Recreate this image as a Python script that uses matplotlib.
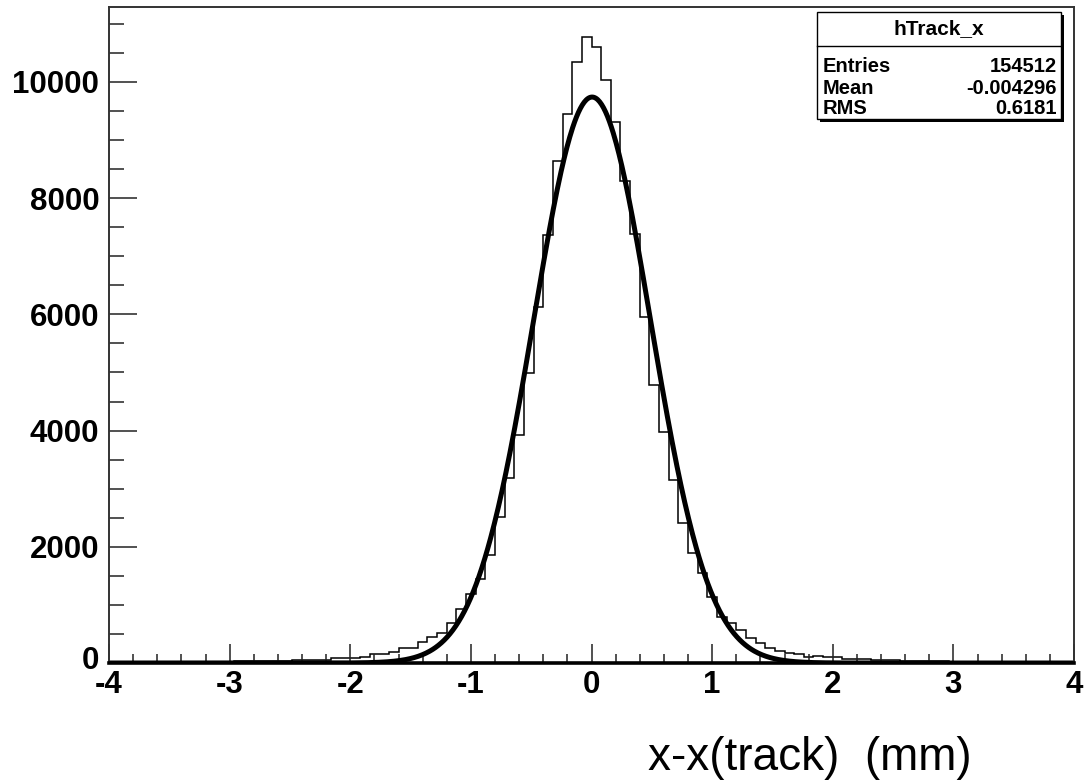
import numpy as np
import matplotlib
matplotlib.use("Agg")
import matplotlib.pyplot as plt
from matplotlib.patches import Rectangle
from matplotlib.lines import Line2D
from matplotlib.ticker import MultipleLocator
from matplotlib.transforms import ScaledTranslation

# ---- data ----
x_min, x_max, n_bins = -4.0, 4.0, 100
counts = [5, 6, 7, 8, 10, 10, 12, 20, 22, 22,
          23, 24, 25, 35, 38, 38, 40, 40, 42, 50,
          52, 52, 55, 78, 80, 85, 109, 150, 160, 195,
          250, 260, 360, 455, 516, 688, 929, 1180, 1440, 1858,
          2516, 3177, 3930, 4988, 6128, 7362, 8633, 9442, 10340, 10766,
          10600, 10036, 9306, 8295, 7391, 5956, 4782, 3970, 3148, 2403,
          1887, 1543, 1140, 800, 680, 560, 425, 340, 265, 200,
          165, 150, 110, 125, 100, 95, 70, 70, 68, 55,
          52, 50, 38, 35, 35, 30, 30, 25, 25, 22,
          20, 20, 18, 15, 15, 12, 12, 10, 10, 8]
fit_const = 9740.0
fit_mean = 0.005
fit_sigma = 0.484

stats_title = "hTrack_x"
stats_names = ["Entries", "Mean", "RMS"]
stats_values = ["154512", "-0.004296", "0.6181"]
x_ticks = [-4, -3, -2, -1, 0, 1, 2, 3, 4]
y_ticks = [0, 2000, 4000, 6000, 8000, 10000]
x_title = "x-x(track)  (mm)"

# ---- figure ----
W, H = 1090, 781
fig = plt.figure(figsize=(W / 100, H / 100), dpi=100)
def fx(px): return px / W
def fy(py): return 1 - py / H

ax_l, ax_r, ax_t, ax_b = 109, 1074, 7, 663
ax = fig.add_axes([fx(ax_l), fy(ax_b), fx(ax_r) - fx(ax_l), fy(ax_t) - fy(ax_b)])

edges = np.linspace(x_min, x_max, n_bins + 1)
ax.stairs(counts, edges, color="black", linewidth=1.1, baseline=0)

xf = np.linspace(x_min, x_max, 1000)
yf = fit_const * np.exp(-0.5 * ((xf - fit_mean) / fit_sigma) ** 2)
ax.plot(xf, yf, color="black", linewidth=3.6, solid_capstyle="round")

ax.set_xlim(x_min, x_max)
ax.set_ylim(0, 11290)

ax.set_xticks(x_ticks)
ax.set_yticks(y_ticks)
ax.xaxis.set_minor_locator(MultipleLocator(0.2))
ax.yaxis.set_minor_locator(MultipleLocator(500))

font = "Liberation Sans"
ax.set_xticklabels([str(v) for v in x_ticks], fontfamily=font, fontweight="bold", fontsize=22.5)
ax.set_yticklabels([str(v) for v in y_ticks], fontfamily=font, fontweight="bold", fontsize=22.5)

ax.tick_params(axis="y", which="major", direction="in", length=20, width=1.1, color="#222222", pad=7)
ax.tick_params(axis="y", which="minor", direction="in", length=10.5, width=1.1, color="#222222")
ax.tick_params(axis="x", which="major", direction="in", length=14, width=1.1, color="#222222", pad=5)
ax.tick_params(axis="x", which="minor", direction="in", length=6.3, width=1.1, color="#222222")

# nudge the "0" y label up slightly so it does not collide with "-4"
lbl0 = ax.get_yticklabels()[0]
lbl0.set_transform(lbl0.get_transform() + ScaledTranslation(0, 4 / 72, fig.dpi_scale_trans))

for s in ["left", "top", "right"]:
    ax.spines[s].set_linewidth(1.4)
    ax.spines[s].set_color("#333333")
ax.spines["bottom"].set_linewidth(2.6)
ax.spines["bottom"].set_color("black")

# axis title
fig.text(fx(972), fy(770), x_title, ha="right", va="baseline",
         fontfamily=font, fontsize=33)

# ---- stats box ----
bx0, bx1, by0, by1 = 817, 1061, 12, 119
sh = 3
fig.add_artist(Rectangle((fx(bx0 + sh), fy(by1 + sh)), fx(bx1 - bx0), fy(by0) - fy(by1),
                         transform=fig.transFigure, facecolor="black", edgecolor="none", zorder=5))
fig.add_artist(Rectangle((fx(bx0), fy(by1)), fx(bx1 - bx0), fy(by0) - fy(by1),
                         transform=fig.transFigure, facecolor="white", edgecolor="black",
                         linewidth=1.0, zorder=6))
fig.add_artist(Line2D([fx(bx0), fx(bx1)], [fy(46), fy(46)], transform=fig.transFigure,
                      color="black", linewidth=1.0, zorder=7))
fig.text(fx((bx0 + bx1) / 2), fy(29), stats_title, ha="center", va="center",
         fontfamily=font, fontweight="bold", fontsize=15, zorder=8)
row_y = [66, 88, 109]
for name, val, ry in zip(stats_names, stats_values, row_y):
    fig.text(fx(823), fy(ry), name, ha="left", va="center",
             fontfamily=font, fontweight="bold", fontsize=14.5, zorder=8)
    fig.text(fx(1057), fy(ry), val, ha="right", va="center",
             fontfamily=font, fontweight="bold", fontsize=14.5, zorder=8)

fig.savefig("out.png", dpi=100)
